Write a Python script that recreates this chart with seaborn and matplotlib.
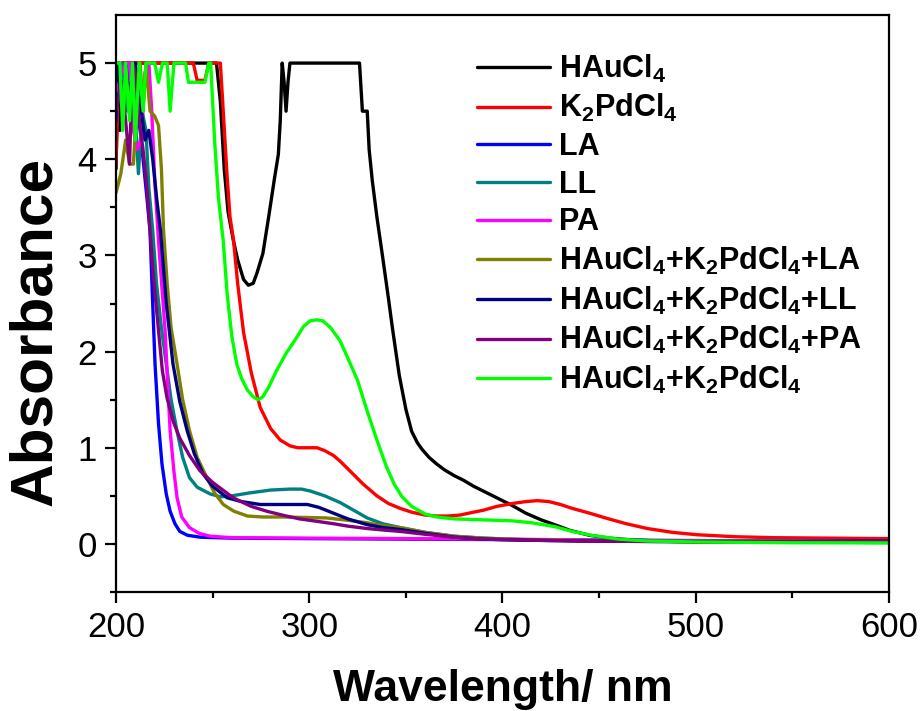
import numpy as np
import pandas as pd
import matplotlib
matplotlib.use("Agg")
import matplotlib.pyplot as plt
import seaborn as sns

# ---- UV-vis spectra (wavelength in nm, absorbance) ----
hau_wl = [200, 201, 202, 203.5, 252, 254, 256, 258, 260.7, 263, 266, 268.5, 271, 273, 276,
          279, 282, 284, 285, 286, 287, 288, 289, 290, 326, 327.5, 330, 331, 332.6, 335,
          338, 341, 343, 346.6, 350, 353, 356, 358.5, 362, 366, 370, 375, 380, 385, 390,
          397, 405, 412, 420, 427, 435, 445, 455, 465, 480, 500, 540, 600]
hau_a = [3.9, 4.9, 4.3, 5.0, 5.0, 4.6, 3.9, 3.45, 3.16, 2.95, 2.75, 2.69, 2.71, 2.82, 3.02,
         3.4, 3.8, 4.05, 4.4, 5.0, 4.8, 4.5, 4.8, 5.0, 5.0, 4.5, 4.5, 4.1, 3.78, 3.4,
         2.98, 2.55, 2.25, 1.75, 1.4, 1.17, 1.05, 0.98, 0.9, 0.83, 0.77, 0.71, 0.66, 0.6, 0.55,
         0.48, 0.40, 0.32, 0.25, 0.2, 0.14, 0.09, 0.06, 0.045, 0.03, 0.02, 0.02, 0.015]

kpd_wl = [200, 201.5, 240, 242, 246, 248, 254, 255.5, 257.4, 259, 260.8, 263, 266, 270,
          274.6, 280, 285, 290, 294, 299, 304, 308, 312.5, 316, 320, 323, 328, 335, 341,
          347, 353, 360, 366, 371.5, 378, 385, 390, 397, 405, 412, 418, 424, 430, 436,
          445, 455, 464, 475, 488, 501, 520, 540, 570, 600]
kpd_a = [3.95, 5.0, 5.0, 4.82, 4.82, 5.0, 5.0, 4.5, 3.85, 3.4, 3.16, 2.7, 2.2, 1.78,
         1.42, 1.2, 1.08, 1.02, 1.0, 1.0, 1.0, 0.97, 0.92, 0.86, 0.78, 0.72, 0.62, 0.5, 0.42,
         0.37, 0.33, 0.3, 0.29, 0.29, 0.3, 0.33, 0.35, 0.39, 0.42, 0.44, 0.45, 0.44, 0.41, 0.37,
         0.32, 0.26, 0.21, 0.16, 0.12, 0.095, 0.075, 0.065, 0.06, 0.055]

la_wl = [200, 201, 202.5, 204, 205.5, 207, 208.5, 210, 212, 214, 216, 217.6, 218.8, 220.2,
         222, 223.8, 226, 228, 230.5, 233, 237, 243.5, 260, 300, 350, 400, 450, 500, 550, 600]
la_a = [4.4, 5.0, 4.9, 4.5, 5.0, 4.6, 4.9, 4.3, 4.4, 4.0, 3.6, 3.26, 2.6, 1.87,
        1.25, 0.83, 0.52, 0.34, 0.21, 0.13, 0.09, 0.07, 0.06, 0.055, 0.05, 0.045, 0.04, 0.035, 0.03, 0.03]

ll_wl = [200, 203, 206, 209, 211.6, 213.5, 215.5, 217, 219, 221, 223.5, 226, 228.5, 231.5,
         234.5, 238, 242, 248.7, 254, 260, 269, 280, 290, 296, 300.5, 308, 316, 323, 330,
         338, 347, 360, 375, 390, 410, 440, 480, 540, 600]
ll_a = [4.8, 5.0, 4.5, 4.8, 3.85, 4.5, 4.3, 3.7, 3.26, 2.7, 2.25, 1.87, 1.5, 1.18,
        0.9, 0.69, 0.59, 0.52, 0.49, 0.5, 0.53, 0.56, 0.57, 0.57, 0.55, 0.5, 0.43, 0.35, 0.27,
        0.21, 0.17, 0.12, 0.08, 0.06, 0.045, 0.035, 0.03, 0.025, 0.02]

pa_wl = [200, 203, 205, 207, 209, 211, 213, 215, 217, 218.5, 220, 222, 224, 225.4, 226.8,
         228, 230, 231.6, 234, 238, 243, 248.7, 260, 300, 350, 400, 450, 500, 550, 600]
pa_a = [4.7, 4.9, 5.0, 5.0, 4.3, 4.1, 4.2, 4.9, 5.0, 4.5, 3.8, 3.15, 2.6, 2.22, 1.65,
        1.18, 0.75, 0.48, 0.28, 0.17, 0.11, 0.08, 0.065, 0.06, 0.055, 0.05, 0.04, 0.03, 0.025, 0.02]

mix_la_wl = [200, 202.5, 205, 207, 209, 211, 212.5, 214, 215.5, 217.6, 220, 222, 223.5, 224.6,
             226.5, 228.5, 231.6, 234.5, 238, 242, 247, 251, 255.5, 261, 268, 276, 286.7, 298,
             309, 318, 330, 338, 347, 360, 375, 390, 410, 440, 480, 540, 600]
mix_la_a = [3.65, 3.85, 4.2, 3.95, 3.95, 4.6, 5.0, 4.5, 5.0, 4.5, 4.45, 4.35, 3.9, 3.26,
            2.7, 2.25, 1.87, 1.5, 1.18, 0.9, 0.69, 0.53, 0.41, 0.34, 0.29, 0.28, 0.28, 0.275,
            0.27, 0.25, 0.22, 0.19, 0.17, 0.12, 0.08, 0.06, 0.045, 0.035, 0.03, 0.025, 0.02]

mix_ll_wl = [200, 201.5, 203, 205, 207, 210, 212.5, 215, 217, 219, 221, 223, 226, 229.5, 233,
             236.8, 240.5, 245, 250, 257.5, 265, 274.6, 285, 292, 299, 305, 312.5, 320, 330,
             338, 347, 360, 375, 390, 410, 440, 480, 540, 600]
mix_ll_a = [4.8, 5.0, 4.4, 4.9, 4.7, 5.0, 4.6, 4.2, 4.3, 4.0, 3.6, 3.26, 2.5, 1.87, 1.48,
            1.18, 0.94, 0.73, 0.6, 0.48, 0.44, 0.41, 0.41, 0.41, 0.41, 0.38, 0.32, 0.26, 0.2,
            0.17, 0.15, 0.11, 0.07, 0.05, 0.04, 0.03, 0.025, 0.02, 0.02]

mix_pa_wl = [200, 203, 205, 207, 208.5, 210, 212, 214, 216, 217.6, 219.5, 222, 224, 226.4,
             229.5, 233, 238, 243.5, 250, 260.6, 270, 278, 286, 295, 304, 312.5, 320, 330,
             338, 347, 360, 375, 390, 410, 440, 480, 540, 600]
mix_pa_a = [4.5, 4.8, 4.4, 3.95, 5.0, 4.9, 4.4, 4.1, 3.7, 3.26, 2.75, 2.22, 1.8, 1.52,
            1.28, 1.1, 0.92, 0.76, 0.64, 0.48, 0.39, 0.34, 0.3, 0.26, 0.235, 0.21, 0.185, 0.16,
            0.145, 0.13, 0.1, 0.07, 0.05, 0.04, 0.03, 0.025, 0.02, 0.02]

mix_wl = [200, 202, 203.5, 205, 207, 208.5, 210, 212, 214, 215.5, 220, 222, 224, 226.5, 228,
          230, 236, 237.5, 246, 248, 249, 251, 253, 255.5, 257.5, 260, 262.5, 265, 268, 271,
          273.6, 276, 279, 283, 288, 293.6, 297, 300.5, 304, 307, 311, 316, 320, 325, 330,
          335, 340, 344, 348, 353, 360, 366, 375, 390, 405, 415, 427, 436, 446, 460, 475,
          500, 550, 600]
mix_a = [5.0, 5.0, 4.3, 5.0, 4.4, 5.0, 4.2, 5.0, 4.5, 5.0, 5.0, 4.8, 5.0, 5.0, 4.5,
         5.0, 5.0, 4.8, 4.8, 5.0, 5.0, 4.2, 3.6, 3.15, 2.6, 2.15, 1.87, 1.72, 1.6, 1.53,
         1.5, 1.53, 1.63, 1.8, 1.98, 2.15, 2.26, 2.32, 2.33, 2.32, 2.25, 2.11, 1.93, 1.7, 1.38,
         1.08, 0.8, 0.62, 0.49, 0.39, 0.31, 0.28, 0.26, 0.25, 0.24, 0.22, 0.18, 0.13, 0.09, 0.05, 0.03,
         0.02, 0.012, 0.01]

labels = [
    r"HAuCl$_4$",
    r"K$_2$PdCl$_4$",
    "LA",
    "LL",
    "PA",
    r"HAuCl$_4$+K$_2$PdCl$_4$+LA",
    r"HAuCl$_4$+K$_2$PdCl$_4$+LL",
    r"HAuCl$_4$+K$_2$PdCl$_4$+PA",
    r"HAuCl$_4$+K$_2$PdCl$_4$",
]
colors = ["#000000", "#ff0000", "#0000ff", "#008080", "#ff00ff",
          "#808000", "#000080", "#800080", "#00ff00"]
series = [(hau_wl, hau_a), (kpd_wl, kpd_a), (la_wl, la_a), (ll_wl, ll_a), (pa_wl, pa_a),
          (mix_la_wl, mix_la_a), (mix_ll_wl, mix_ll_a), (mix_pa_wl, mix_pa_a), (mix_wl, mix_a)]

frames = []
for lab, (wl, a) in zip(labels, series):
    frames.append(pd.DataFrame({"wavelength": wl, "absorbance": a, "sample": lab}))
df = pd.concat(frames, ignore_index=True)

sns.set_style("ticks")
plt.rcParams["font.family"] = ["Liberation Sans", "DejaVu Sans"]
plt.rcParams["mathtext.fontset"] = "custom"
plt.rcParams["mathtext.rm"] = "Liberation Sans:bold"
plt.rcParams["mathtext.it"] = "Liberation Sans:bold"
plt.rcParams["mathtext.bf"] = "Liberation Sans:bold"
for key in ["text.color", "axes.labelcolor", "xtick.color", "ytick.color", "axes.edgecolor"]:
    plt.rcParams[key] = "black"

fig = plt.figure(figsize=(9.24, 7.11), dpi=100)
ax = fig.add_axes([116 / 924, 1 - 592 / 711, (889 - 116) / 924, (592 - 15) / 711])

sns.lineplot(data=df, x="wavelength", y="absorbance", hue="sample",
             hue_order=labels, palette=dict(zip(labels, colors)),
             estimator=None, sort=False, linewidth=2.4, ax=ax, legend=False)

ax.set_xlim(200, 600)
ax.set_ylim(-0.5, 5.5)
ax.set_xticks([200, 300, 400, 500, 600])
ax.set_xticks([250, 350, 450, 550], minor=True)
ax.set_yticks([0, 1, 2, 3, 4, 5])
ax.set_yticks([-0.5, 0.5, 1.5, 2.5, 3.5, 4.5], minor=True)
ax.tick_params(which="major", direction="out", length=8, width=1.6, labelsize=25, pad=6)
ax.tick_params(which="minor", direction="out", length=4.5, width=1.6)
for s in ax.spines.values():
    s.set_linewidth(1.6)
    s.set_visible(True)

ax.set_xlabel("Wavelength/ nm", fontsize=32, fontweight="bold", labelpad=18)
ax.set_ylabel("Absorbance", fontsize=43.5, fontweight="bold")
ax.yaxis.set_label_coords(-0.068, 0.452)

handles = [plt.Line2D([], [], color=c, lw=2.4) for c in colors]
leg = ax.legend(handles, labels, loc="upper left", bbox_to_anchor=(0.467, 0.935),
                frameon=False, borderpad=0, borderaxespad=0, handlelength=2.4,
                handletextpad=0.3, labelspacing=0.25,
                prop={"size": 22, "weight": "bold"})

fig.savefig("out.png", dpi=100)
